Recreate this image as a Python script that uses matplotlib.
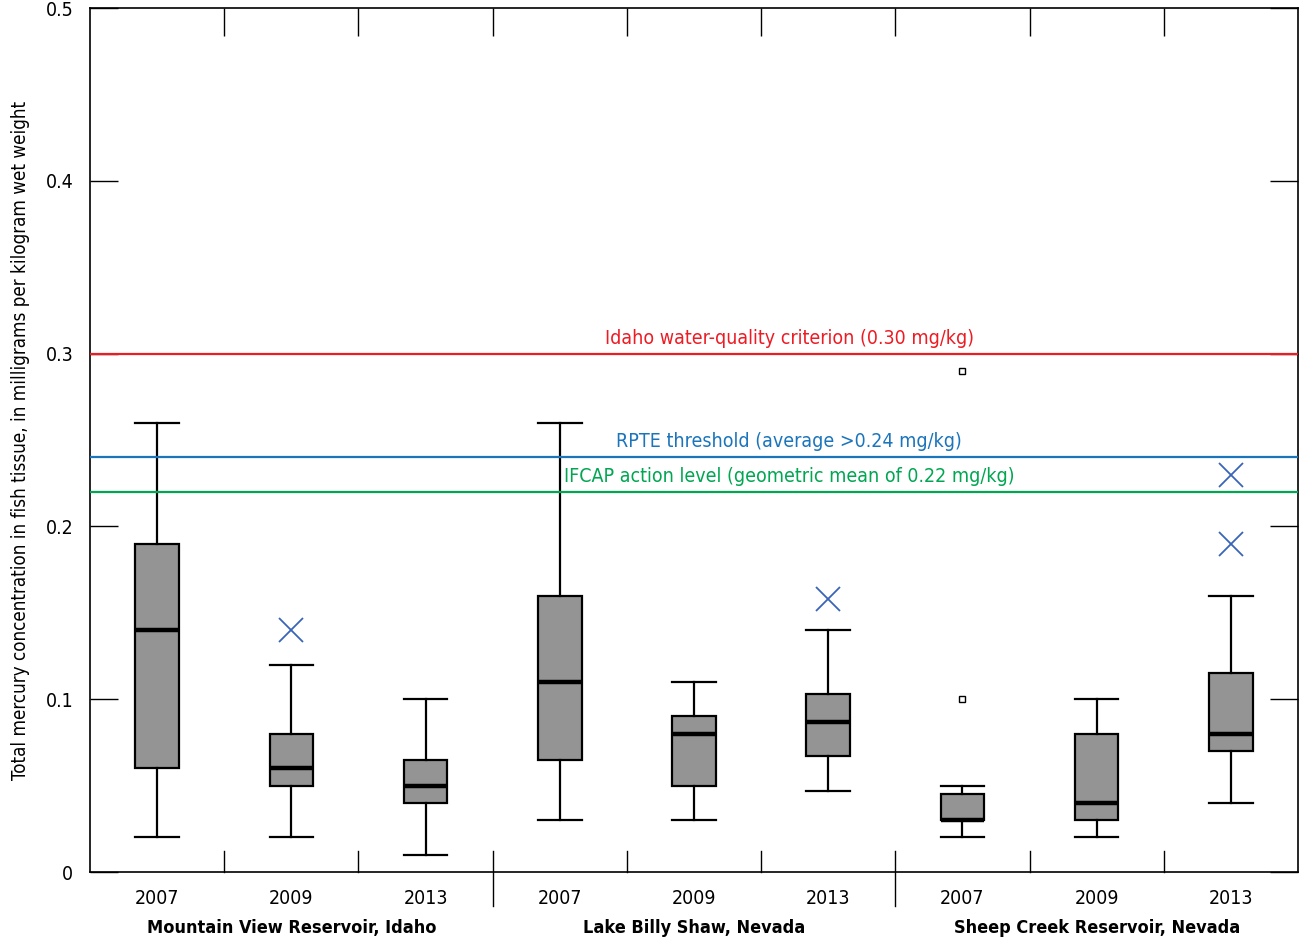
import matplotlib
matplotlib.use("Agg")
import matplotlib.pyplot as plt
import matplotlib.transforms as mtransforms

plt.rcParams['font.family'] = ['DejaVu Sans']
plt.rcParams['font.stretch'] = 'condensed'

# data (mg/kg wet weight)
sites = ['Mountain View Reservoir, Idaho', 'Lake Billy Shaw, Nevada', 'Sheep Creek Reservoir, Nevada']
years = ['2007', '2009', '2013'] * 3
whislo = [0.02, 0.02, 0.01, 0.03, 0.03, 0.047, 0.02, 0.02, 0.04]
q1 = [0.06, 0.05, 0.04, 0.065, 0.05, 0.067, 0.03, 0.03, 0.07]
med = [0.14, 0.06, 0.05, 0.11, 0.08, 0.087, 0.03, 0.04, 0.08]
q3 = [0.19, 0.08, 0.065, 0.16, 0.09, 0.103, 0.045, 0.08, 0.115]
whishi = [0.26, 0.12, 0.10, 0.26, 0.11, 0.14, 0.05, 0.10, 0.16]
# far outliers drawn as X, near outliers as small squares
far_out = [[], [0.14], [], [], [], [0.158], [], [], [0.19, 0.23]]
near_out = [[], [], [], [], [], [], [0.10, 0.29], [], []]

ref_values = [0.30, 0.24, 0.22]
ref_labels = ['Idaho water-quality criterion (0.30 mg/kg)',
              'RPTE threshold (average >0.24 mg/kg)',
              'IFCAP action level (geometric mean of 0.22 mg/kg)']
ref_colors = ['#ED1C24', '#1B75BC', '#00A651']

fig = plt.figure(figsize=(13.01, 9.42), dpi=100)
ax = fig.add_axes([0.0692, 0.0743, 0.9285, 0.9172])

pos = list(range(1, 10))
stats = []
for i in range(9):
    stats.append(dict(whislo=whislo[i], q1=q1[i], med=med[i], q3=q3[i],
                      whishi=whishi[i], fliers=[]))

ax.bxp(stats, positions=pos, widths=0.325, patch_artist=True,
       showfliers=False,
       boxprops=dict(facecolor='#949494', edgecolor='black', linewidth=1.6),
       medianprops=dict(color='black', linewidth=3.2, solid_capstyle='butt'),
       whiskerprops=dict(color='black', linewidth=1.6),
       capprops=dict(color='black', linewidth=1.6),
       capwidths=0.325)

for i in range(9):
    if far_out[i]:
        ax.plot([pos[i]] * len(far_out[i]), far_out[i], 'x', color='#3A64B8',
                markersize=17, markeredgewidth=1.3)
    if near_out[i]:
        ax.plot([pos[i]] * len(near_out[i]), near_out[i], 's', color='black',
                markerfacecolor='white', markersize=4.5, markeredgewidth=1)

for v, lab, c in zip(ref_values, ref_labels, ref_colors):
    ax.axhline(v, color=c, linewidth=1.6, zorder=3)
    ax.text(5.71, v + 0.0035, lab, color=c, fontsize=14, ha='center', va='bottom')

ax.set_xlim(0.5, 9.5)
ax.set_ylim(0, 0.5)
ax.set_yticks([0, 0.1, 0.2, 0.3, 0.4, 0.5])
ax.set_yticklabels(['0', '0.1', '0.2', '0.3', '0.4', '0.5'])
ax.tick_params(axis='y', direction='in', length=20, width=1, labelsize=14,
               right=True, pad=12)

bounds = [1.5, 2.5, 3.5, 4.5, 5.5, 6.5, 7.5, 8.5]
ax.set_xticks(bounds)
ax.set_xticklabels([])
ax.tick_params(axis='x', direction='in', length=20, width=1, top=True,
               bottom=False)
for s in ax.spines.values():
    s.set_linewidth(1.2)

# bottom inner ticks and group separators
trans = mtransforms.blended_transform_factory(ax.transData, ax.transAxes)
for b in bounds:
    if b in (3.5, 6.5):
        ax.plot([b, b], [0.024, -0.039], color='black', linewidth=1,
                transform=trans, clip_on=False)
    else:
        ax.plot([b, b], [0.0, 0.024], color='black', linewidth=1,
                transform=trans, clip_on=False)

for p, y in zip(pos, years):
    ax.text(p, -0.031, y, transform=trans, ha='center', va='center', fontsize=14)
for k, s in enumerate(sites):
    ax.text(3 * k + 2, -0.065, s, transform=trans, ha='center', va='center',
            fontsize=13, fontweight='bold')

ax.set_ylabel('Total mercury concentration in fish tissue, in milligrams per kilogram wet weight',
              fontsize=13.5, labelpad=11)

fig.savefig('out.png', dpi=100)
